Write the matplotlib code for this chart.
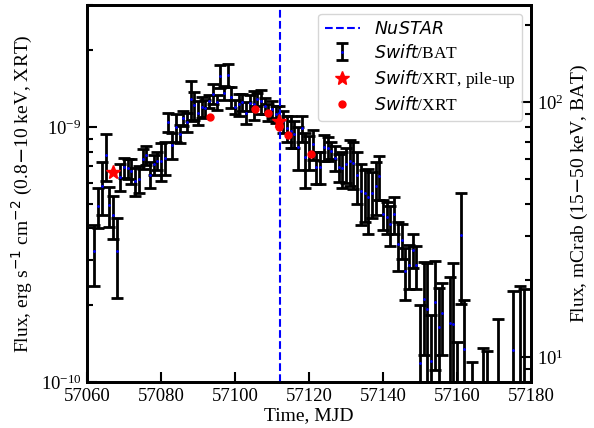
import matplotlib
matplotlib.use('Agg')
import matplotlib.pyplot as plt
from matplotlib.ticker import NullFormatter

plt.rcParams['font.family'] = 'serif'
plt.rcParams['font.serif'] = ['Liberation Serif', 'DejaVu Serif']
plt.rcParams['mathtext.fontset'] = 'dejavusans'
plt.rcParams['font.size'] = 13.5

# Swift/BAT light curve, mCrab (15-50 keV)
bat_mjd = [57062, 57063, 57064, 57065, 57066, 57067, 57068, 57069, 57070, 57071,
           57072, 57073, 57074, 57075, 57076, 57077, 57078, 57079, 57080, 57081,
           57082, 57083, 57084, 57085, 57086, 57087, 57088, 57089, 57090, 57091,
           57092, 57093, 57094, 57095, 57096, 57097, 57098, 57099, 57100, 57101,
           57102, 57103, 57104, 57105, 57106, 57107, 57108, 57109, 57110, 57111,
           57112, 57113, 57114, 57115, 57116, 57117, 57118, 57119, 57120, 57121,
           57122, 57123, 57124, 57125, 57126, 57127, 57128, 57129, 57130, 57131,
           57132, 57133, 57134, 57135, 57136, 57137, 57138, 57139, 57140, 57141,
           57142, 57143, 57144, 57145, 57146, 57147, 57148, 57149, 57150, 57151,
           57152, 57153, 57154, 57155, 57156, 57158, 57159, 57160, 57161, 57162,
           57164, 57167, 57168, 57171, 57175, 57177, 57178]
bat_flux = [26, 39, 47, 62, 39.5, 36, 26, 51, 55.6, 55,
            53.7, 49, 50, 60, 62, 52, 57, 59, 59, 60.6,
            83.4, 68, 79.6, 75, 86.5, 83.4, 102.6, 97.3, 91, 95.5,
            94.5, 101, 108, 100, 127, 109, 128, 104.5, 95.5, 98,
            100, 91, 99.5, 98, 103, 101, 96.5, 91, 94, 90,
            91, 84, 79, 77, 75, 67, 79, 61, 64, 68.5,
            55.7, 55.7, 66.6, 66, 64.6, 60.6, 55.7, 55, 57, 58.8,
            57.5, 52, 45, 44, 42.5, 44, 47, 51.4, 36.5, 35.5,
            33.2, 36.4, 27.8, 28.8, 21.7, 23.0, 26.3, 22.9, 9.5, 16.9,
            15.5, 9.7, 16.4, 13.1, 14.9, 13.6, 13.5, 5, 30.2, 10.8,
            4, 4, 4, 5, 10.7, 6, 6]
bat_err = [7, 7, 11, 13, 7, 7, 9, 6, 5, 5,
           6, 6, 6, 5.5, 5.5, 6, 5, 5, 10, 9,
           7, 8, 10, 6, 6, 7, 18, 12, 10, 9,
           7, 6, 10, 7, 13, 7, 13, 10, 6, 10,
           8, 9, 7, 13, 6, 11, 7, 7, 7, 7,
           6, 8, 9, 11, 9, 13, 9, 15, 10, 9,
           8, 8, 8, 7, 5, 7, 7, 9, 9, 12,
           12, 12, 12, 10, 12, 9, 11, 10, 5, 5,
           6, 6, 6, 4.5, 5, 4.5, 4, 4.3, 6.5, 6.7,
           8, 5, 7.5, 5.6, 4.7, 7, 10, 6.5, 14, 6,
           5.6, 6.9, 6.6, 9.1, 7.5, 13, 12.5]

# Swift/XRT fluxes, erg/s/cm2 (0.8-10 keV)
xrt_mjd = [57093.2, 57105.3, 57108.8, 57112.0, 57114.2, 57120.4]
xrt_flux = [1.09e-9, 1.17e-9, 1.13e-9, 1.0e-9, 9.3e-10, 7.84e-10]
pileup_mjd = [57067.1, 57112.0]
pileup_flux = [6.64e-10, 1.05e-9]

nustar_mjd = 57112.2

fig = plt.figure(figsize=(5.94, 4.28), dpi=100)
ax = fig.add_axes([0.1465, 0.1075, 0.7475, 0.8805])
ax2 = ax.twinx()
ax.set_zorder(ax2.get_zorder() + 1)
ax.patch.set_visible(False)

bat = ax2.errorbar(bat_mjd, bat_flux, yerr=bat_err, fmt='b.', ms=2,
                   ecolor='k', elinewidth=2, capsize=4, capthick=2)
nu = ax.axvline(nustar_mjd, color='b', ls='--', lw=1.5)
pu, = ax.plot(pileup_mjd, pileup_flux, 'r*', ms=10, ls='none')
xr, = ax.plot(xrt_mjd, xrt_flux, 'ro', ms=5, ls='none')

ax.set_yscale('log')
ax.set_ylim(1e-10, 3e-9)
ax2.set_yscale('log')
ax2.set_ylim(8, 240)
ax.set_xlim(57060, 57180)
ax.set_xticks(range(57060, 57181, 20))
ax.yaxis.set_minor_formatter(NullFormatter())
ax2.yaxis.set_minor_formatter(NullFormatter())

ax.tick_params(which='both', direction='in', width=1.5, top=False, right=False, pad=4)
ax.tick_params(which='major', length=7)
ax.tick_params(which='minor', length=4)
ax2.tick_params(which='both', direction='in', width=1.5, pad=4)
ax2.tick_params(which='major', length=7)
ax2.tick_params(which='minor', length=4)
for a in (ax, ax2):
    for s in a.spines.values():
        s.set_linewidth(2)

ax.set_xlabel('Time, MJD', fontsize=14, labelpad=2)
ax.set_ylabel(r'Flux, erg s$^{-1}$ cm$^{-2}$ (0.8$-$10 keV, XRT)', fontsize=14)
ax2.set_ylabel(r'Flux, mCrab (15$-$50 keV, BAT)', fontsize=14)

ax.legend([nu, bat, pu, xr],
          [r'$\it{NuSTAR}$', r'$\it{Swift}$/BAT', r'$\it{Swift}$/XRT, pile-up', r'$\it{Swift}$/XRT'],
          loc='upper right', fontsize=12.5, labelspacing=0.35)

fig.savefig('out.png', dpi=100)
